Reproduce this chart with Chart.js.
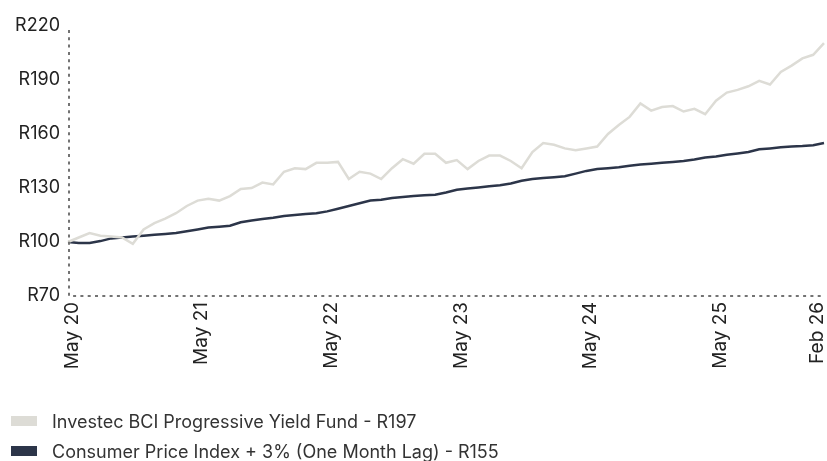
<!DOCTYPE html>
<html>
<head>
<meta charset="utf-8">
<script src="https://cdn.jsdelivr.net/npm/chart.js@4/dist/chart.umd.min.js"></script>
<style>
  html, body { margin: 0; padding: 0; background: #fff; }
  #wrap { position: relative; width: 827px; height: 461px; overflow: hidden; }
  #chart-box { position: absolute; left: 0; top: 0; width: 827px; height: 461px; }
  #legend { position: absolute; left: 11px; top: 406px; font-family: Inter, "Noto Sans", sans-serif; font-size: 18px; color: #333; }
  #legend .item { display: flex; align-items: center; height: 30px; }
  #legend .box { width: 26px; height: 10px; margin-right: 15px; }
</style>
</head>
<body>
<div id="wrap">
  <div id="chart-box"><canvas id="chart"></canvas></div>
  <div id="legend"></div>
</div>
<script>
// ═══ DATA ═══
const months = ['Jan','Feb','Mar','Apr','May','Jun','Jul','Aug','Sep','Oct','Nov','Dec'];
// monthly points from May 2020 to Mar 2026
const labels = [];
for (let i = 0; i < 71; i++) {
  const m = (4 + i) % 12;
  const y = 20 + Math.floor((4 + i) / 12);
  labels.push(months[m] + ' ' + y);
}
const shownTicks = ['May 20','May 21','May 22','May 23','May 24','May 25','Feb 26'];
const yTicks = [70, 100, 130, 160, 190, 220];

const fundName = 'Investec BCI Progressive Yield Fund  - R197';
const cpiName = 'Consumer Price Index + 3% (One Month Lag)  - R155';

const fund = [100, 102.5, 105, 103.5, 103, 102.5, 99, 107, 110.5, 113,
  116, 120, 123, 124, 123, 125.5, 129.5, 130, 133, 132,
  139, 141, 140.5, 144, 144, 144.5, 135, 139, 138, 135,
  141, 146, 143.5, 149, 149, 144, 145.5, 140.5, 145, 148,
  148, 145, 141, 150, 155, 154, 152, 151, 152, 153,
  160, 165, 169.5, 177, 173, 175, 175.5, 172.5, 174, 171,
  178.5, 183, 184.5, 186.5, 189.5, 187.5, 194.5, 198, 202, 204,
  210.5];
const cpi = [100, 99.5, 99.5, 100.5, 102, 102.5, 103, 103.5, 104, 104.5,
  105, 106, 107, 108, 108.5, 109, 111, 112, 112.8, 113.5,
  114.5, 115, 115.5, 116, 117, 118.5, 120, 121.5, 123, 123.5,
  124.5, 125, 125.5, 126, 126.2, 127.5, 129, 129.7, 130.3, 131,
  131.5, 132.5, 134, 135, 135.5, 136, 136.5, 138, 139.5, 140.5,
  141, 141.5, 142.3, 143, 143.5, 144, 144.5, 145, 145.8, 147,
  147.5, 148.5, 149.2, 150, 151.5, 152, 152.6, 153, 153.3, 153.8,
  155];

// ═══ CHART ═══
const axisColor = '#737373';
const fontFamily = 'Inter, "Noto Sans", sans-serif';

// dotted axis lines along the left and bottom of the plot
const dottedAxes = {
  id: 'dottedAxes',
  afterDatasetsDraw(c) {
    const { ctx, chartArea: a } = c;
    ctx.save();
    ctx.strokeStyle = axisColor;
    ctx.lineWidth = 2;
    ctx.setLineDash([3, 4.3]);
    ctx.beginPath();
    ctx.moveTo(a.left + 1, a.top + 4);
    ctx.lineTo(a.left + 1, a.bottom);
    ctx.lineTo(a.right, a.bottom);
    ctx.stroke();
    ctx.restore();
  }
};

const chart = new Chart(document.getElementById('chart'), {
  type: 'line',
  data: {
    labels: labels,
    datasets: [
      { label: fundName, data: fund, borderColor: '#dddcd6', backgroundColor: '#dddcd6', borderWidth: 2.5, pointRadius: 0, tension: 0 },
      { label: cpiName, data: cpi, borderColor: '#2c3549', backgroundColor: '#2c3549', borderWidth: 2.5, pointRadius: 0, tension: 0 }
    ]
  },
  options: {
    responsive: true,
    maintainAspectRatio: false,
    animation: false,
    layout: { padding: { top: 26, right: 3, left: 0, bottom: 0 } },
    plugins: { legend: { display: false }, tooltip: { enabled: false } },
    scales: {
      x: {
        offset: false,
        afterFit: s => { s.height = 165; s.paddingLeft = 0; s.paddingRight = 0; },
        grid: { display: false, drawTicks: false },
        border: { display: false },
        ticks: {
          autoSkip: false, minRotation: 90, maxRotation: 90, padding: 6, labelOffset: 4,
          color: '#222', font: { family: fontFamily, size: 19 },
          callback: function(v) {
            const l = this.getLabelForValue(v);
            return shownTicks.includes(l) ? l : '';
          }
        }
      },
      y: {
        min: 70, max: 220,
        afterFit: s => { s.width = 68; },
        afterBuildTicks: s => { s.ticks = yTicks.map(v => ({ value: v })); },
        grid: { display: false, drawTicks: false },
        border: { display: false },
        ticks: { padding: 8, color: '#222', font: { family: fontFamily, size: 18 }, callback: v => 'R' + v }
      }
    }
  },
  plugins: [dottedAxes]
});

// ═══ LEGEND (html) ═══
const legendEl = document.getElementById('legend');
chart.data.datasets.forEach(ds => {
  const item = document.createElement('div');
  item.className = 'item';
  item.innerHTML = '<span class="box" style="background:' + ds.backgroundColor + '"></span><span>' + ds.label + '</span>';
  legendEl.appendChild(item);
});
</script>
</body>
</html>
